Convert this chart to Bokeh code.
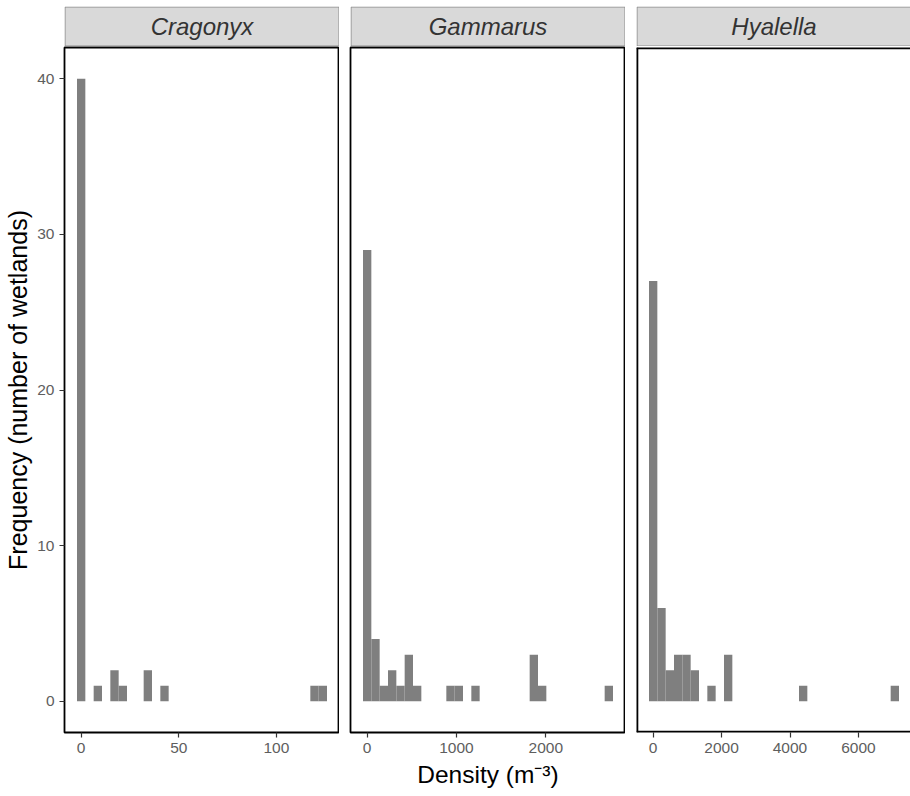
from bokeh.plotting import figure
from bokeh.layouts import column, row
from bokeh.models import Range1d, FixedTicker, Span, ColumnDataSource
from bokeh.core.properties import value
from bokeh.embed import file_html
from bokeh.resources import INLINE

# ---------------- data ----------------
species = ["Cragonyx", "Gammarus", "Hyalella"]
bin_widths = [4.27, 93.3, 243.6]          # histogram bin widths (30 bins each)

cragonyx_counts = [40, 0, 1, 0, 2, 1, 0, 0, 2, 0,
                   1, 0, 0, 0, 0, 0, 0, 0, 0, 0,
                   0, 0, 0, 0, 0, 0, 0, 0, 1, 1]
gammarus_counts = [29, 4, 1, 2, 1, 3, 1, 0, 0, 0,
                   1, 1, 0, 1, 0, 0, 0, 0, 0, 0,
                   3, 1, 0, 0, 0, 0, 0, 0, 0, 1]
hyalella_counts = [27, 6, 2, 3, 3, 2, 0, 1, 0, 3,
                   0, 0, 0, 0, 0, 0, 0, 0, 1, 0,
                   0, 0, 0, 0, 0, 0, 0, 0, 0, 1]
counts = [cragonyx_counts, gammarus_counts, hyalella_counts]

x_ticks = [[0, 50, 100], [0, 1000, 2000], [0, 2000, 4000, 6000]]
y_ticks = [0, 10, 20, 30, 40]
y_title = "Frequency (number of wetlands)"
x_title = "Density (m\u207b\u00b3)"

# ---------------- styling ----------------
FONT = "Liberation Sans"
BAR = "#7F7F7F"
STRIP_FILL = "#D9D9D9"
STRIP_LINE = "#8C8C8C"
TICK_TXT = "#5E5E5E"

frame_w = [275, 275, 274]
left_b = [64, 11, 11]
strip_top = 6
strip_h = 40
frame_h = 685
bottom_b = 63

strips = []
panels = []
for k, name in enumerate(species):
    fw = frame_w[k]
    # ---- strip ----
    s = figure(frame_width=fw, frame_height=strip_h, output_backend="svg",
               toolbar_location=None, x_range=Range1d(0, fw), y_range=Range1d(0, strip_h),
               min_border_left=left_b[k], min_border_right=0, min_border_top=strip_top,
               min_border_bottom=0)
    s.axis.visible = False
    s.grid.visible = False
    s.outline_line_color = None
    s.background_fill_color = "white"
    s.border_fill_color = "white"
    right_edge = fw - 0.5 if k < 2 else fw + 6
    s.quad(left=[0.5], right=[right_edge], bottom=[0.5], top=[strip_h - 0.5],
           fill_color=STRIP_FILL, line_color=STRIP_LINE, line_width=1)
    s.text(x=[275 / 2], y=[strip_h / 2], text=[name], text_align="center",
           text_baseline="middle", text_font=value(FONT), text_font_style="italic",
           text_font_size="24px", text_color="#333333")
    strips.append(s)

    # ---- panel ----
    w = bin_widths[k]
    lo = -2 * w
    hi = lo + 33 * w * fw / 275.0
    p = figure(frame_width=fw, frame_height=frame_h, output_backend="svg",
               toolbar_location=None, x_range=Range1d(lo, hi), y_range=Range1d(-2, 42),
               min_border_left=left_b[k], min_border_right=0, min_border_top=1,
               min_border_bottom=bottom_b)
    p.grid.visible = False
    p.background_fill_color = "white"
    p.border_fill_color = "white"

    c = counts[k]
    idx = [i for i in range(len(c)) if c[i] > 0]
    src = ColumnDataSource(dict(
        left=[i * w - w / 2 for i in idx],
        right=[i * w + w / 2 for i in idx],
        top=[c[i] for i in idx],
        bottom=[0] * len(idx)))
    p.quad(left="left", right="right", top="top", bottom="bottom", source=src,
           fill_color=BAR, line_color=None)

    p.xaxis.ticker = FixedTicker(ticks=x_ticks[k])
    p.xaxis.major_label_text_font = FONT
    p.xaxis.major_label_text_font_size = "15.5px"
    p.xaxis.major_label_text_color = TICK_TXT
    p.xaxis.major_tick_out = 5
    p.xaxis.major_tick_in = 0
    p.xaxis.minor_tick_out = 0
    p.xaxis.minor_tick_in = 0
    p.xaxis.major_tick_line_color = "#333333"
    p.xaxis.major_tick_line_width = 1.2
    p.xaxis.axis_line_color = None
    p.xaxis.major_label_standoff = 5

    if k == 0:
        p.yaxis.ticker = FixedTicker(ticks=y_ticks)
        p.yaxis.major_label_text_font = FONT
        p.yaxis.major_label_text_font_size = "15.5px"
        p.yaxis.major_label_text_color = TICK_TXT
        p.yaxis.major_tick_out = 5
        p.yaxis.major_tick_in = 0
        p.yaxis.minor_tick_out = 0
        p.yaxis.minor_tick_in = 0
        p.yaxis.major_tick_line_color = "#333333"
        p.yaxis.major_tick_line_width = 1.2
        p.yaxis.axis_line_color = None
        p.yaxis.major_label_standoff = 5
        p.yaxis.axis_label = y_title
        p.yaxis.axis_label_text_font = FONT
        p.yaxis.axis_label_text_font_size = "25px"
        p.yaxis.axis_label_text_font_style = "normal"
        p.yaxis.axis_label_text_color = "black"
        p.yaxis.axis_label_standoff = 2
    else:
        p.yaxis.visible = False

    if k == 1:
        p.xaxis.axis_label = x_title
        p.xaxis.axis_label_text_font = FONT
        p.xaxis.axis_label_text_font_size = "24.5px"
        p.xaxis.axis_label_text_font_style = "normal"
        p.xaxis.axis_label_text_color = "black"
        p.xaxis.axis_label_standoff = 5

    if k < 2:
        p.outline_line_color = "black"
        p.outline_line_width = 1.8
    else:
        p.outline_line_color = None
        p.add_layout(Span(location=lo, dimension="height", line_color="black", line_width=3.6))
        p.add_layout(Span(location=42, dimension="width", line_color="black", line_width=3.6))
        p.add_layout(Span(location=-2, dimension="width", line_color="black", line_width=3.6))
    panels.append(p)

layout = column(row(*strips), row(*panels))
open("out.html", "w").write(file_html(layout, INLINE))
